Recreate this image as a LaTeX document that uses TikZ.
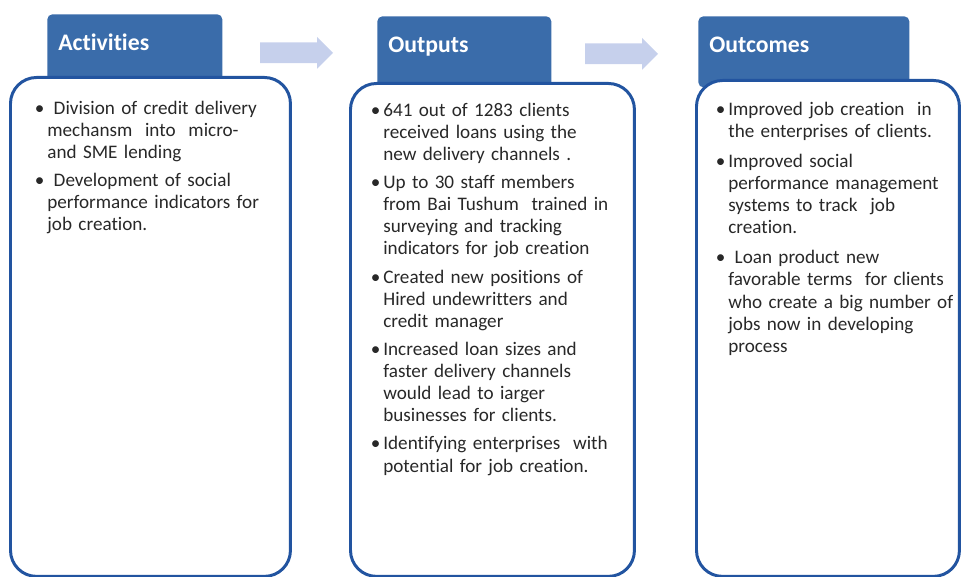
\documentclass[tikz,border=0pt]{standalone}
\usepackage{fontspec}
\setmainfont[Ligatures=NoCommon]{Carlito}
\usepackage{enumitem}
\usetikzlibrary{positioning,shapes.arrows,calc}

\definecolor{tabblue}{RGB}{58,108,170}
\definecolor{rimblue}{RGB}{34,84,160}
\definecolor{arrowfill}{RGB}{198,208,236}
\definecolor{bodygrey}{RGB}{40,40,40}

\setlist[itemize]{label=\textbullet,leftmargin=0.3cm,labelsep=0.06cm,itemsep=3.4pt,topsep=0pt,parsep=0pt,partopsep=0pt}

\begin{document}
\begin{tikzpicture}[x=0.02cm,y=-0.02cm,
    tab/.style={fill=tabblue,rounded corners=0.1cm,anchor=north west,inner xsep=0.22cm,inner ysep=0pt,
      text height=0.72cm,text depth=0.7cm,align=left,text=white,font=\fontsize{13.5}{16}\selectfont\bfseries},
    panel/.style={draw=rimblue,line width=1.7pt,fill=white,rounded corners=0.52cm,anchor=north west},
    items/.style={anchor=base west,inner sep=0pt,align=left,text=bodygrey,font=\fontsize{10.9}{12.6}\selectfont},
    flow/.style={single arrow,fill=arrowfill,minimum height=1.46cm,inner sep=0.2cm,single arrow head extend=0.11cm,
      xshift=-0.17cm,yshift=-0.04cm}]
  \useasboundingbox (0,0) rectangle (961,577);

  % header tabs sit behind the panels
  \node[tab,text width=3.06cm] (tabAct) at (47,14) {Activities};
  \node[tab,text width=3.04cm] (tabOut) at (377,16) {Outputs};
  \node[tab,text width=3.78cm] (tabInc) at (698,16) {Outcomes};

  \node[flow] (arrA) at ($(tabAct.east)!0.5!(tabOut.west)$) {};
  \node[flow] (arrB) at ($(tabOut.east)!0.5!(tabInc.west)$) {};

  \node[panel,minimum width=5.6cm,minimum height=9.98cm] (boxAct) at (9,76) {};
  \node[panel,minimum width=5.68cm,minimum height=9.86cm] (boxOut) at (349,82) {};
  \node[panel,minimum width=5.26cm,minimum height=9.92cm] (boxInc) at (695,79) {};

  \node[items,text width=5cm] (txtAct) at (32,92) {%
    \begin{itemize}
      \item\ Division of credit delivery\\ mechansm\ \ into\ \ micro-\\ and SME lending
      \item\ Development of social\\ performance indicators for\\ job creation.
    \end{itemize}};
  \node[items,text width=5.2cm] (txtOut) at (368,94) {%
    \begin{itemize}
      \item 641 out of 1283 clients\\ received loans using the\\ new delivery channels .
      \item Up to 30 staff members\\ from Bai Tushum\ \ trained in\\ surveying and tracking\\ indicators for job creation
      \item Created new positions of\\ Hired undewritters and\\ credit manager
      \item Increased loan sizes and\\ faster delivery channels\\ would lead to iarger\\ businesses for clients.
      \item Identifying enterprises\ \ with\\ potential for job creation.
    \end{itemize}};
  \node[items,text width=5cm] (txtInc) at (713,93) {%
    \begin{itemize}[itemsep=4.5pt]
      \item Improved job creation\ \ in\\ the enterprises of clients.
      \item Improved social\\ performance management\\ systems to track\ \ job\\ creation.
      \item\ Loan product new\\ favorable terms\ \ for clients\\ who create a big number of\\ jobs now in developing\\ process
    \end{itemize}};
\end{tikzpicture}
\end{document}
